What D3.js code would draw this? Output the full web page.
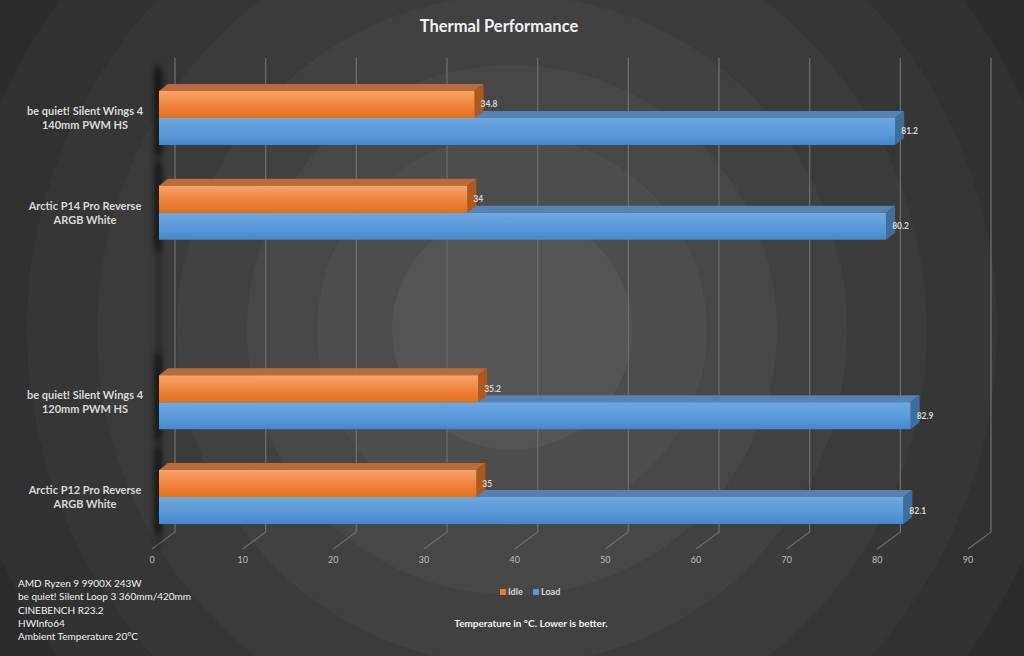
<!DOCTYPE html>
<html>
<head>
<meta charset="utf-8">
<script src="https://cdn.jsdelivr.net/npm/d3@7"></script>
<style>
  body { margin: 0; background: #262626; }
  svg { display: block; font-family: Lato, "Open Sans", sans-serif; }
</style>
</head>
<body>
<div id="chart"></div>
<script>
// data
const CATEGORIES = [
  ["be quiet! Silent Wings 4", "140mm PWM HS"],
  ["Arctic P14 Pro Reverse", "ARGB White"],
  [],
  ["be quiet! Silent Wings 4", "120mm PWM HS"],
  ["Arctic P12 Pro Reverse", "ARGB White"]
];
const SERIES = ["Idle", "Load"];
const IDLE = [34.8, 34, null, 35.2, 35];
const LOAD = [81.2, 80.2, null, 82.9, 82.1];
const TICKS = [0, 10, 20, 30, 40, 50, 60, 70, 80, 90];
const NOTES = ["AMD Ryzen 9 9900X 243W", "be quiet! Silent Loop 3 360mm/420mm",
               "CINEBENCH R23.2", "HWInfo64", "Ambient Temperature 20°C"];

const FRAME_WIDTH = 1024;
const FRAME_HEIGHT = 656;
const BACK = {left: 175, right: 991, top: 58, bottom: 532};
const DEPTH = {dx: -23, dy: 17};      // back wall -> front of floor
const BAR_OFF = -16;                  // front face of bars relative to back wall
const BAR_DEPTH = {dx: 9, dy: -7};

const COLORS = {
  Idle: {top: "#f6a46c", mid: "#ee7d31", bot: "#e0721f", lid: "#bb6a3a", side: "#b0581c"},
  Load: {top: "#6ea8e0", mid: "#5597d8", bot: "#4686cd", lid: "#5582b0", side: "#3f6d9c"}
};

const FRAME = d3.select("#chart")
                .append("svg")
                  .attr("width", FRAME_WIDTH)
                  .attr("height", FRAME_HEIGHT);

const defs = FRAME.append("defs");
defs.append("filter").attr("id", "blur")
    .attr("x", "-300%").attr("width", "700%")
    .attr("y", "-20%").attr("height", "140%")
    .append("feGaussianBlur").attr("stdDeviation", 3);

SERIES.forEach((s) => {
  const g = defs.append("linearGradient").attr("id", "grad-" + s)
                .attr("x1", 0).attr("y1", 0).attr("x2", 0).attr("y2", 1);
  g.append("stop").attr("offset", "0%").attr("stop-color", COLORS[s].top);
  g.append("stop").attr("offset", "65%").attr("stop-color", COLORS[s].mid);
  g.append("stop").attr("offset", "100%").attr("stop-color", COLORS[s].bot);
});

// background rings
const RINGS = [[700, "#272727"], [640, "#2c2c2c"], [560, "#313131"], [485, "#363636"],
               [415, "#3b3b3b"], [335, "#414141"], [265, "#474747"], [195, "#4d4d4d"], [120, "#555555"]];
FRAME.append("rect").attr("width", FRAME_WIDTH).attr("height", FRAME_HEIGHT).attr("fill", "#242424");
FRAME.selectAll(".ring")
     .data(RINGS)
     .enter()
     .append("circle")
       .attr("class", "ring")
       .attr("cx", 512)
       .attr("cy", 330)
       .attr("r", (d) => d[0])
       .attr("fill", (d) => d[1]);

// title
FRAME.append("text")
     .attr("x", 499).attr("y", 32)
     .attr("text-anchor", "middle")
     .attr("font-size", "16.5px").attr("font-weight", "bold")
     .attr("fill", "#f2f2f2")
     .text("Thermal Performance");

const X_SCALE = d3.scaleLinear()
                  .domain([0, 90])
                  .range([BACK.left, BACK.right]);

const Y_SCALE = d3.scaleBand()
                  .domain(d3.range(CATEGORIES.length))
                  .range([70.6, 544.4])
                  .paddingInner(0.43)
                  .paddingOuter(0.215);

const S_SCALE = d3.scaleBand()
                  .domain(SERIES)
                  .range([0, Y_SCALE.bandwidth()]);

// gridlines (back wall + floor diagonal)
FRAME.selectAll(".grid")
     .data(TICKS)
     .enter()
     .append("polyline")
       .attr("class", "grid")
       .attr("points", (d) => {
         const x = X_SCALE(d);
         return [[x, BACK.top], [x, BACK.bottom], [x + DEPTH.dx, BACK.bottom + DEPTH.dy]].join(" ");
       })
       .attr("fill", "none")
       .attr("stroke", "#6c6c6c")
       .attr("stroke-width", 1.3);

// tick labels
FRAME.selectAll(".tick-label")
     .data(TICKS)
     .enter()
     .append("text")
       .attr("class", "tick-label")
       .attr("x", (d) => X_SCALE(d) + DEPTH.dx)
       .attr("y", 563)
       .attr("text-anchor", "middle")
       .attr("font-size", "9px")
       .attr("fill", "#bfbfbf")
       .text((d) => d);

// shadows on the left wall
FRAME.append("rect")
     .attr("x", 156).attr("y", 66)
     .attr("width", 5).attr("height", 482)
     .attr("fill", "#000").attr("opacity", 0.35)
     .attr("filter", "url(#blur)");

FRAME.selectAll(".wall-shadow")
     .data(CATEGORIES.map((c, i) => i).filter((i) => IDLE[i] !== null))
     .enter()
     .append("rect")
       .attr("class", "wall-shadow")
       .attr("x", 155)
       .attr("y", (i) => Y_SCALE(i) - 22)
       .attr("width", 6)
       .attr("height", Y_SCALE.bandwidth() + 32)
       .attr("fill", "#000")
       .attr("opacity", 0.6)
       .attr("filter", "url(#blur)");

// bars
const x0 = X_SCALE(0) + BAR_OFF;
const W = X_SCALE(1) - X_SCALE(0);
const bars = [];
CATEGORIES.forEach((c, i) => {
  if (LOAD[i] !== null) bars.push({cat: i, s: "Load", v: LOAD[i]});
  if (IDLE[i] !== null) bars.push({cat: i, s: "Idle", v: IDLE[i]});
});

const BAR_G = FRAME.selectAll(".bar")
                   .data(bars)
                   .enter()
                   .append("g")
                     .attr("class", "bar");

BAR_G.append("polygon")
     .attr("points", (d) => {
       const y = Y_SCALE(d.cat) + S_SCALE(d.s);
       const x1 = x0 + d.v * W;
       return [[x0, y], [x0 + BAR_DEPTH.dx, y + BAR_DEPTH.dy], [x1 + BAR_DEPTH.dx, y + BAR_DEPTH.dy], [x1, y]].join(" ");
     })
     .attr("fill", (d) => COLORS[d.s].lid);

BAR_G.append("polygon")
     .attr("points", (d) => {
       const y = Y_SCALE(d.cat) + S_SCALE(d.s);
       const h = S_SCALE.bandwidth();
       const x1 = x0 + d.v * W;
       return [[x1, y], [x1 + BAR_DEPTH.dx, y + BAR_DEPTH.dy], [x1 + BAR_DEPTH.dx, y + h + BAR_DEPTH.dy], [x1, y + h]].join(" ");
     })
     .attr("fill", (d) => COLORS[d.s].side);

BAR_G.append("rect")
     .attr("x", x0)
     .attr("y", (d) => Y_SCALE(d.cat) + S_SCALE(d.s))
     .attr("width", (d) => d.v * W)
     .attr("height", S_SCALE.bandwidth())
     .attr("fill", (d) => "url(#grad-" + d.s + ")");

BAR_G.append("text")
     .attr("x", (d) => x0 + d.v * W + 6)
     .attr("y", (d) => Y_SCALE(d.cat) + S_SCALE(d.s) + S_SCALE.bandwidth() / 2 + 3)
     .attr("font-size", "8.5px")
     .attr("font-weight", "bold")
     .attr("fill", "#d9d9d9")
     .text((d) => d.v);

// category labels
const CAT_G = FRAME.selectAll(".cat")
                   .data(CATEGORIES.map((lines, i) => ({lines: lines, i: i})))
                   .enter()
                   .append("text")
                     .attr("class", "cat")
                     .attr("text-anchor", "middle")
                     .attr("font-size", "11px")
                     .attr("font-weight", "bold")
                     .attr("fill", "#d9d9d9");

CAT_G.selectAll("tspan")
     .data((d) => d.lines.map((l, k) => ({l: l, k: k, i: d.i})))
     .enter()
     .append("tspan")
       .attr("x", 85)
       .attr("y", (d) => Y_SCALE(d.i) + Y_SCALE.bandwidth() / 2 - 3 + d.k * 14)
       .text((d) => d.l);

// legend
const LEGEND_X = [500, 533];
SERIES.forEach((s, k) => {
  FRAME.append("rect")
       .attr("x", LEGEND_X[k]).attr("y", 589)
       .attr("width", 6).attr("height", 6)
       .attr("fill", COLORS[s].mid);
  FRAME.append("text")
       .attr("x", LEGEND_X[k] + 8).attr("y", 595)
       .attr("font-size", "9px").attr("font-weight", "bold")
       .attr("fill", "#d9d9d9")
       .text(s);
});

// axis title
FRAME.append("text")
     .attr("x", 531).attr("y", 627)
     .attr("text-anchor", "middle")
     .attr("font-size", "10px").attr("font-weight", "bold")
     .attr("fill", "#f2f2f2")
     .text("Temperature in °C. Lower is better.");

// notes
FRAME.selectAll(".note")
     .data(NOTES)
     .enter()
     .append("text")
       .attr("class", "note")
       .attr("x", 18)
       .attr("y", (d, i) => 587 + i * 13.3)
       .attr("font-size", "10px")
       .attr("fill", "#f2f2f2")
       .text((d) => d);
</script>
</body>
</html>
